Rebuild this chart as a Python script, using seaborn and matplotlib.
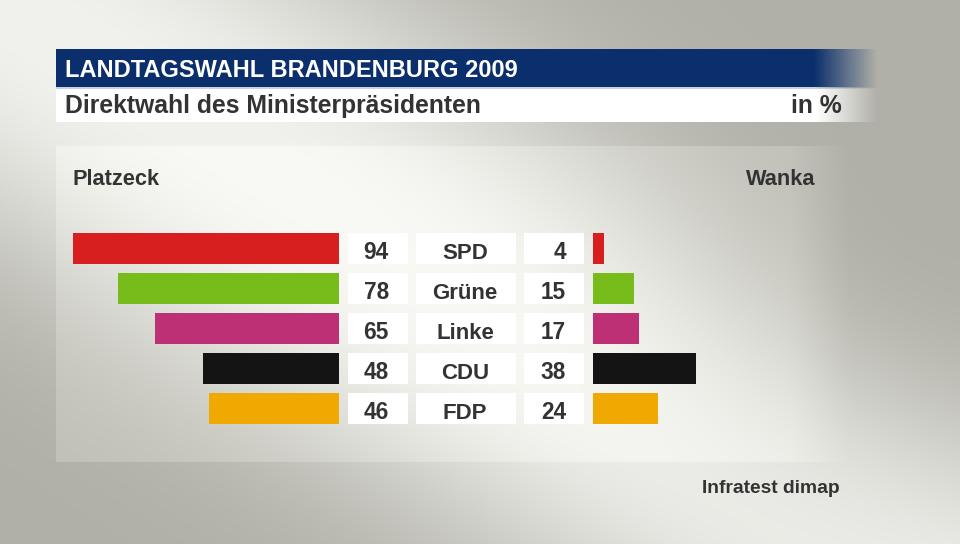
import numpy as np
import pandas as pd
import matplotlib
matplotlib.use("Agg")
import matplotlib.pyplot as plt
import matplotlib.colors as mcolors
import seaborn as sns

# ---------------- data ----------------
parties = ["SPD", "Grüne", "Linke", "CDU", "FDP"]
platzeck = [94, 78, 65, 48, 46]
wanka = [4, 15, 17, 38, 24]
colors = ["#d81f1f", "#78bc1c", "#bd3076", "#141414", "#f0a900"]

title = "LANDTAGSWAHL BRANDENBURG 2009"
subtitle = "Direktwahl des Ministerpräsidenten"
unit = "in %"
left_label = "Platzeck"
right_label = "Wanka"
source = "Infratest dimap"

df = pd.DataFrame({"party": parties, "platzeck": platzeck, "wanka": wanka})

# ---------------- style ----------------
sns.set_theme(style="white")
plt.rcParams["font.family"] = ["Liberation Sans", "DejaVu Sans"]
plt.rcParams["font.weight"] = "bold"
TXT = "#333333"

W, H = 960, 544
fig = plt.figure(figsize=(9.6, 5.44), dpi=100)


def fig_rect(x0, x1, y0, y1):
    return [x0 / W, 1 - y1 / H, (x1 - x0) / W, (y1 - y0) / H]


# ---------------- background ----------------
bg = fig.add_axes([0, 0, 1, 1])
yy, xx = np.mgrid[0:H, 0:W] + 0.5
ux, uy = 0.848, 0.530
perp = np.abs(uy * xx - ux * yy)
band = np.exp(-(perp / 215.0) ** 2.4)
blob = np.exp(-((xx - 960) ** 2 + (yy - 170) ** 2) / 260.0 ** 2)
w = band * (1 - blob)
dark = np.array([176, 176, 168]) / 255
light = np.array([241, 242, 237]) / 255
img = dark + w[..., None] * (light - dark)
pfade = np.clip((850 - xx) / 60.0, 0, 1)
panel = ((yy >= 146) & (yy <= 462) & (xx >= 56)).astype(float) * pfade
img = np.clip(img + 0.06 * panel[..., None] * (1 - 0.5 * w[..., None]), 0, 1)
bg.imshow(img, extent=(0, W, H, 0), aspect="auto", interpolation="bilinear", zorder=0)


def fade_bar(ax, x0, x1, y0, y1, color, fade_start):
    n = 600
    xs = np.linspace(x0, x1, n)
    alpha = np.clip((x1 - xs) / (x1 - fade_start), 0, 1)
    rgba = np.zeros((1, n, 4))
    rgba[..., :3] = mcolors.to_rgb(color)
    rgba[0, :, 3] = alpha
    ax.imshow(rgba, extent=(x0, x1, y1, y0), aspect="auto",
              interpolation="bilinear", zorder=1)


fade_bar(bg, 56, 878, 49, 88, "#0b2f6c", 815)
fade_bar(bg, 56, 878, 88, 89.5, "#c9d2de", 815)
fade_bar(bg, 56, 878, 89.5, 122.5, "#ffffff", 817)

bg.set_xlim(0, W)
bg.set_ylim(H, 0)
bg.axis("off")

bg.text(65, 77, title, color="white", fontsize=17, fontweight="bold", va="baseline", zorder=3)
bg.text(65, 113, subtitle, color=TXT, fontsize=17.8, fontweight="bold", va="baseline", zorder=3)
bg.text(842, 113, unit, color=TXT, fontsize=17.8, fontweight="bold", ha="right", va="baseline", zorder=3)
bg.text(72, 185, left_label, color=TXT, fontsize=15.7, fontweight="bold", va="baseline", zorder=3)
bg.text(815, 185, right_label, color=TXT, fontsize=15.7, fontweight="bold", ha="right", va="baseline", zorder=3)
bg.text(840, 493, source, color=TXT, fontsize=13.9, fontweight="bold", ha="right", va="baseline", zorder=3)

# ---------------- bars ----------------
Y0, Y1 = 229.0, 428.0
BAR_H = 0.78

axL = fig.add_axes(fig_rect(50, 339, Y0, Y1))
sns.barplot(data=df, x="platzeck", y="party", hue="party", order=parties,
            hue_order=parties, palette=colors, saturation=1, legend=False,
            width=BAR_H, linewidth=0, orient="h", ax=axL)
axL.set_xlim(289 / 2.83, 0)
axL.set_ylim(4.5, -0.5)
axL.axis("off")

axR = fig.add_axes(fig_rect(593, 880, Y0, Y1))
sns.barplot(data=df, x="wanka", y="party", hue="party", order=parties,
            hue_order=parties, palette=colors, saturation=1, legend=False,
            width=BAR_H, linewidth=0, orient="h", ax=axR)
axR.set_xlim(0, 287 / 2.72)
axR.set_ylim(4.5, -0.5)
axR.axis("off")

# ---------------- label boxes ----------------
axC = fig.add_axes(fig_rect(339, 593, Y0, Y1))
ypos = np.arange(len(parties))
for left, width in [(9, 60), (77, 100), (185, 60)]:
    axC.barh(ypos, width, left=left, height=BAR_H, color="white", linewidth=0)
for i, (p, a, b) in enumerate(zip(parties, platzeck, wanka)):
    axC.text(50, i + 0.265, str(a), ha="right", va="baseline", color=TXT, fontsize=16.3, fontweight="bold")
    axC.text(126, i + 0.265, p, ha="center", va="baseline", color=TXT, fontsize=16.0, fontweight="bold")
    axC.text(227, i + 0.265, str(b), ha="right", va="baseline", color=TXT, fontsize=16.3, fontweight="bold")
axC.set_xlim(0, 254)
axC.set_ylim(4.5, -0.5)
axC.axis("off")

fig.savefig("out.png", dpi=100)
